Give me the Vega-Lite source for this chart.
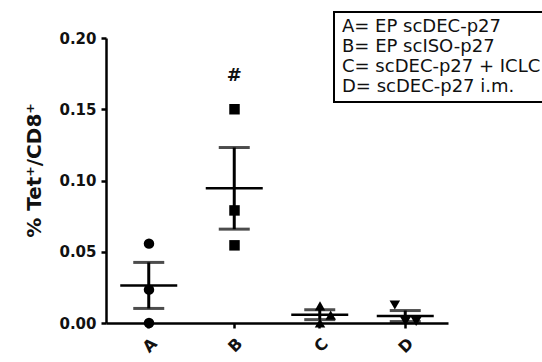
{
  "$schema": "https://vega.github.io/schema/vega-lite/v6.json",
  "autosize": {"type": "none"},
  "padding": {"left": 106, "top": 38, "right": 94, "bottom": 39},
  "width": 342,
  "height": 285,
  "background": "white",
  "config": {
    "view": {"stroke": null},
    "font": "DejaVu Sans",
    "axis": {
      "domainColor": "black", "domainWidth": 2.5, "tickColor": "black", "tickWidth": 2.5,
      "tickSize": 5, "labelColor": "#111", "labelFont": "DejaVu Sans", "labelFontWeight": "bold",
      "labelFontSize": 15, "grid": false, "titleFont": "DejaVu Sans", "titleColor": "#111"
    },
    "legend": {"strokeWidth": 2}
  },
  "data": {
    "values": [
      {"group": "A", "value": 0.0557, "slot": "m"},
      {"group": "A", "value": 0.0234, "slot": "m"},
      {"group": "A", "value": 0.0, "slot": "m"},
      {"group": "B", "value": 0.150, "slot": "m"},
      {"group": "B", "value": 0.079, "slot": "m"},
      {"group": "B", "value": 0.0545, "slot": "m"},
      {"group": "C", "value": 0.012, "slot": "m"},
      {"group": "C", "value": 0.0055, "slot": "r"},
      {"group": "C", "value": 0.0, "slot": "m"},
      {"group": "D", "value": 0.0126, "slot": "l"},
      {"group": "D", "value": 0.001, "slot": "m"},
      {"group": "D", "value": 0.001, "slot": "r"}
    ]
  },
  "encoding": {
    "x": {
      "field": "group", "type": "nominal",
      "scale": {"domain": ["A", "B", "C", "D"], "paddingInner": 0, "paddingOuter": 0},
      "axis": {"title": null, "labelAngle": -45, "labelPadding": 7, "labelFontSize": 16}
    }
  },
  "layer": [
    {
      "mark": {"type": "point", "filled": true, "size": 110, "color": "black", "opacity": 1},
      "encoding": {
        "y": {
          "field": "value", "type": "quantitative", "title": "% Tet⁺/CD8⁺",
          "scale": {"domain": [0, 0.2], "nice": false, "zero": true},
          "axis": {"values": [0, 0.05, 0.1, 0.15, 0.2], "format": ".2f",
                   "titleFontSize": 20, "titleFontWeight": "bold", "titlePadding": 14, "titleY": 132, "labelPadding": 5}
        },
        "xOffset": {"field": "slot", "type": "nominal", "scale": {"type": "point", "domain": ["l", "m", "r"], "range": [27, 59]}},
        "shape": {
          "field": "group", "type": "nominal",
          "scale": {"domain": ["A", "B", "C", "D"], "range": ["circle", "square", "triangle-up", "triangle-down"]},
          "legend": {
            "orient": "none", "legendX": 228, "legendY": -26, "title": null,
            "symbolSize": 0, "symbolOpacity": 0, "symbolStrokeWidth": 0, "labelOffset": -16,
            "strokeColor": "black", "padding": 6, "labelFontSize": 18, "labelFont": "DejaVu Sans",
            "labelColor": "#111", "labelLimit": 400, "rowPadding": 2,
            "labelExpr": "{'A': 'A= EP scDEC-p27', 'B': 'B= EP scISO-p27', 'C': 'C= scDEC-p27 + ICLC', 'D': 'D= scDEC-p27 i.m.'}[datum.label]"
          }
        }
      }
    },
    {
      "mark": {"type": "errorbar", "extent": "stderr", "ticks": true, "size": 31, "thickness": 3, "color": "black"},
      "encoding": {"y": {"field": "value", "type": "quantitative", "title": "% Tet⁺/CD8⁺"}}
    },
    {
      "mark": {"type": "tick", "size": 57, "thickness": 2.5, "color": "black"},
      "encoding": {"y": {"field": "value", "type": "quantitative", "aggregate": "mean", "title": "% Tet⁺/CD8⁺"}}
    },
    {
      "data": {"values": [{"group": "B", "value": 0.173, "label": "#"}]},
      "mark": {"type": "text", "fontSize": 18, "fontWeight": "bold", "color": "#111", "font": "DejaVu Sans"},
      "encoding": {
        "y": {"field": "value", "type": "quantitative", "title": "% Tet⁺/CD8⁺"},
        "text": {"field": "label"}
      }
    }
  ]
}
